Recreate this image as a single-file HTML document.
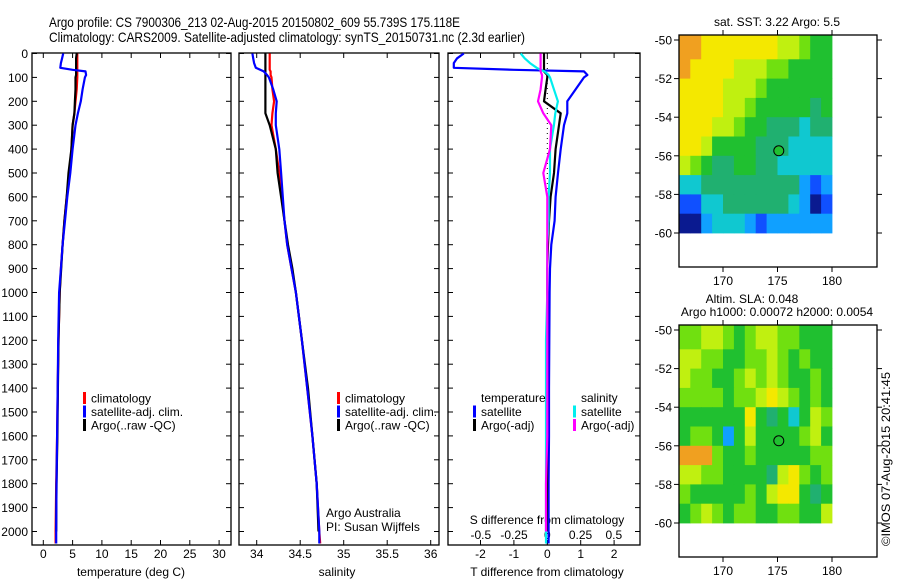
<!DOCTYPE html>
<html><head><meta charset="utf-8"><style>
html,body{margin:0;padding:0;background:#fff;}
svg{display:block;font-family:"Liberation Sans",sans-serif;}
</style></head><body>
<svg id="chart" width="900" height="580" viewBox="0 0 900 580" xmlns="http://www.w3.org/2000/svg">
<text x="49" y="27" font-size="14" textLength="411" lengthAdjust="spacingAndGlyphs">Argo profile: CS 7900306_213 02-Aug-2015 20150802_609 55.739S 175.118E</text>
<text x="49" y="42" font-size="14" textLength="476" lengthAdjust="spacingAndGlyphs">Climatology: CARS2009. Satellite-adjusted climatology: synTS_20150731.nc (2.3d earlier)</text>
<g id="g1"></g><g id="g2"></g><g id="g3"></g><g id="m1"></g><g id="m2"></g>
<text x="0" y="0" font-size="12" transform="translate(890,546) rotate(-90)" textLength="174" lengthAdjust="spacingAndGlyphs">©IMOS 07-Aug-2015 20:41:45</text>
</svg>
<script>
// ---- profile data ----
const depths = [0,20,40,60,68,75,90,100,150,200,250,300,400,500,600,700,800,900,1000,1200,1400,1600,1800,2000,2050];
const tClim = [5.8,5.8,5.8,5.8,5.8,5.8,5.8,5.8,5.7,5.5,5.3,5.0,4.8,4.5,4.0,3.6,3.3,3.0,2.8,2.6,2.45,2.35,2.2,2.1,2.1];
const tSat  = [3.4,3.2,3.0,2.9,5.0,7.2,7.3,7.1,6.7,6.4,5.9,5.5,5.0,4.6,4.1,3.7,3.3,3.0,2.7,2.55,2.45,2.35,2.25,2.2,2.2];
const tArgo = [5.7,5.6,5.6,5.6,5.6,5.6,5.6,5.5,5.5,5.4,5.3,5.0,4.8,4.3,4.0,3.6,3.3,3.05,2.8,2.6,2.5,2.4,2.25,2.2,null];
const sClim = [34.15,34.15,34.15,34.15,34.15,34.16,34.16,34.17,34.18,34.2,34.18,34.17,34.22,34.26,34.29,34.32,34.35,34.4,34.45,34.52,34.58,34.64,34.69,34.72,34.73];
const sSat  = [33.95,33.96,33.97,33.99,34.04,34.08,34.12,34.14,34.19,34.23,34.22,34.22,34.26,34.28,34.3,34.32,34.35,34.4,34.45,34.52,34.58,34.64,34.69,34.72,34.72];
const sArgo = [34.1,34.1,34.1,34.1,34.1,34.1,34.1,34.1,34.1,34.1,34.1,34.15,34.22,34.24,34.28,34.32,34.36,34.41,34.45,34.52,34.59,34.64,34.69,34.71,null];
const dtSat  = [-2.5,-2.7,-2.8,-2.8,-1,1.1,1.2,1.1,0.85,0.6,0.6,0.5,0.4,0.32,0.25,0.22,0.12,0.08,0.07,0.06,0.05,0.05,0.04,0.04,0.04];
const dtArgo = [-0.1,-0.1,-0.1,-0.1,-0.1,-0.1,0,0,-0.05,-0.1,0.4,0.35,0.25,0.2,0.1,0.05,0.02,0,0,0,0,-0.01,-0.01,-0.02,null];
const dsSat  = [-0.2,-0.17,-0.13,-0.08,-0.05,-0.02,0.01,0.02,0.05,0.08,0.06,0.05,0.02,0.02,0.01,0.01,0,0,0,-0.01,-0.01,-0.01,-0.01,-0.01,-0.01];
const dsArgo = [-0.05,-0.05,-0.05,-0.05,-0.05,-0.05,-0.04,-0.04,-0.05,-0.07,-0.03,0.03,0.02,-0.03,0,0,0,0,0,0,0,0,-0.01,-0.01,null];
const depthTicks = [0,100,200,300,400,500,600,700,800,900,1000,1100,1200,1300,1400,1500,1600,1700,1800,1900,2000];
const tTicks = [0,5,10,15,20,25,30];
const sTicks = [34,34.5,35,35.5,36];
const dtTicks = [-2,-1,0,1,2];
const dsTicks = [-0.5,-0.25,0,0.25,0.5];
const dsTickLabels = ["-0.5","-0.25","0","0.25","0.5"];
// ---- map data (colour index 0..9 per 1deg cell, rows -50..-60, cols 166..180) ----
const sstRows = ["99888888877655","98888777665555","88887776555555","88887765555545","88877655444344","88755554443333","76544554433333","33444444444212","11334444443201","00233321222222"];
const slaRows = ["66776567766555","77665566765655","76655676765565","66665667876565","55555585453576","56652575555675","99965565555566","77665555478656","65555565788545","56765665566557"];
const palette = ["#0a1a90","#1050ff","#10a0ff","#10c8d0","#20b070","#20c030","#70e010","#c0f010","#f4e800","#f0a020"];
const argoLon = 175.118, argoLat = -55.739;

const NS="http://www.w3.org/2000/svg";
function mk(parent,tag,attrs,text){const e=document.createElementNS(NS,tag);for(const k in attrs)e.setAttribute(k,attrs[k]);if(text!==undefined)e.textContent=text;parent.appendChild(e);return e;}
const yD = d => 53.5 + d*0.239;
const TOP=53, BOT=545;

function frame(g,x0,x1,name){
  const r=mk(g,'rect',{x:x0,y:TOP,width:x1-x0,height:BOT-TOP,fill:'none',stroke:'#000','stroke-width':1.3});
  
  
  depthTicks.forEach(d=>{
    mk(g,'line',{x1:x0,x2:x0+5,y1:yD(d),y2:yD(d),stroke:'#000'});
    mk(g,'line',{x1:x1-5,x2:x1,y1:yD(d),y2:yD(d),stroke:'#000'});
  });
}
function xTicks(g,ticks,labels,fx,name,labelY){
  ticks.forEach((t,i)=>{
    const x=fx(t);
    mk(g,'line',{x1:x,x2:x,y1:BOT,y2:BOT-5,stroke:'#000'});
    mk(g,'line',{x1:x,x2:x,y1:TOP,y2:TOP+5,stroke:'#000'});
    const tx=mk(g,'text',{x:x,y:labelY,'font-size':12,'text-anchor':'middle'},labels[i]);
    
    
  });
}
function profile(g,vals,fx,color,name){
  let pts=[];
  vals.forEach((v,i)=>{ if(v!==null) pts.push(fx(v).toFixed(1)+','+yD(depths[i]).toFixed(1)); });
  const p=mk(g,'polyline',{points:pts.join(' '),fill:'none',stroke:color,'stroke-width':2.2,'stroke-linejoin':'round'});
  
  
}
function legend(g,x,y,color,label,name){
  mk(g,'rect',{x:x,y:y-6,width:3,height:12,fill:color});
  const t=mk(g,'text',{x:x+8,y:y+4.5,'font-size':12},label);
  
  
}

// Panel 1 temperature
const g1=document.getElementById('g1');
const xT = t => 43.3 + t*5.86;
frame(g1,32,231,'temperature-panel');
depthTicks.forEach(d=>{
  const t=mk(g1,'text',{x:28,y:yD(d)+4.5,'font-size':12,'text-anchor':'end'},String(d));
  
  
});
xTicks(g1,tTicks,tTicks.map(String),xT,'temperature',558);
const tl=mk(g1,'text',{x:131,y:576,'font-size':12,'text-anchor':'middle'},'temperature (deg C)');


profile(g1,tClim,xT,'#f00','temp-climatology-line');
profile(g1,tArgo,xT,'#000','temp-argo-line');
profile(g1,tSat,xT,'#00f','temp-satellite-line');
legend(g1,83,398,'#f00','climatology','legend-climatology');
legend(g1,83,411.5,'#00f','satellite-adj. clim.','legend-satellite');
legend(g1,83,425,'#000','Argo(..raw -QC)','legend-argo');

// Panel 2 salinity
const g2=document.getElementById('g2');
const xS = s => 256.7 + (s-34)*87;
frame(g2,239,439,'salinity-panel');
xTicks(g2,sTicks,["34","34.5","35","35.5","36"],xS,'salinity',558);
const sl=mk(g2,'text',{x:337,y:576,'font-size':12,'text-anchor':'middle'},'salinity');


profile(g2,sClim,xS,'#f00','sal-climatology-line');
profile(g2,sArgo,xS,'#000','sal-argo-line');
profile(g2,sSat,xS,'#00f','sal-satellite-line');
legend(g2,337,398,'#f00','climatology','legend-climatology-sal');
legend(g2,337,411.5,'#00f','satellite-adj. clim.','legend-satellite-sal');
legend(g2,337,425,'#000','Argo(..raw -QC)','legend-argo-sal');
const aa=mk(g2,'text',{x:326,y:517,'font-size':12},'Argo Australia');


const pi=mk(g2,'text',{x:326,y:531,'font-size':12},'PI: Susan Wijffels');



// Panel 3 differences
const g3=document.getElementById('g3');
const xDT = t => 547.3 + t*33.4;
const xDS = s => 547.3 + s*133;
frame(g3,448,640,'difference-panel');
xTicks(g3,dtTicks,dtTicks.map(String),xDT,'t-diff',558);
dsTicks.forEach((s,i)=>{
  const t=mk(g3,'text',{x:xDS(s),y:539,'font-size':12,'text-anchor':'middle'},dsTickLabels[i]);
  
  
});
const sdl=mk(g3,'text',{x:547,y:524,'font-size':12,'text-anchor':'middle'},'S difference from climatology');


const tdl=mk(g3,'text',{x:547,y:576,'font-size':12,'text-anchor':'middle'},'T difference from climatology');


mk(g3,'line',{x1:xDT(0),x2:xDT(0),y1:TOP,y2:BOT,stroke:'#000','stroke-dasharray':'1,4'});
profile(g3,dtSat,xDT,'#00f','t-diff-satellite-line');
profile(g3,dtArgo,xDT,'#000','t-diff-argo-line');
profile(g3,dsSat,xDS,'#0ee','s-diff-satellite-line');
profile(g3,dsArgo,xDS,'#f0f','s-diff-argo-line');
const tlh=mk(g3,'text',{x:481,y:402,'font-size':12},'temperature');


const slh=mk(g3,'text',{x:581,y:402,'font-size':12},'salinity');


legend(g3,473,411.5,'#00f','satellite','legend-t-satellite');
legend(g3,473,425,'#000','Argo(-adj)','legend-t-argo');
legend(g3,573,411.5,'#0ee','satellite','legend-s-satellite');
legend(g3,573,425,'#f0f','Argo(-adj)','legend-s-argo');

// Maps
const lonX = lon => 679.4 + (lon-166)*10.9;
const lonTicks=[170,175,180];
const latTicks=[-50,-52,-54,-56,-58,-60];
function drawMap(gid,rows,y0,title,name){
  const g=document.getElementById(gid);
  const latY = lat => y0 + 5 + (-50-lat)*19.3;
  rows.forEach((row,r)=>{
    const ya = r===0 ? y0 : latY(-50-r);
    const yb = latY(-51-r);
    for(let c=0;c<row.length;c++){
      const cell=mk(g,'rect',{x:lonX(166+c).toFixed(1),y:ya.toFixed(1),width:(10.9+0.4).toFixed(1),height:(yb-ya+0.4).toFixed(1),fill:palette[+row[c]]});
      
      
    }
  });
  const fr=mk(g,'rect',{x:679,y:y0,width:198,height:232,fill:'none',stroke:'#000','stroke-width':1.3});
  
  
  latTicks.forEach(l=>{
    const y=latY(l);
    mk(g,'line',{x1:679,x2:674,y1:y,y2:y,stroke:'#000'});
    mk(g,'line',{x1:877,x2:882,y1:y,y2:y,stroke:'#000'});
    const t=mk(g,'text',{x:672,y:y+4.5,'font-size':12,'text-anchor':'end'},String(l));
    
    
  });
  lonTicks.forEach(l=>{
    const x=lonX(l);
    mk(g,'line',{x1:x,x2:x,y1:y0,y2:y0-5,stroke:'#000'});
    mk(g,'line',{x1:x,x2:x,y1:y0+232,y2:y0+237,stroke:'#000'});
    const t=mk(g,'text',{x:x,y:y0+250,'font-size':12,'text-anchor':'middle'},String(l));
    
    
  });
  const c=mk(g,'circle',{cx:lonX(argoLon),cy:latY(argoLat),r:5,fill:'#20c030',stroke:'#000','stroke-width':1});
  
  
  title.forEach((tt,i)=>{
    const t=mk(g,'text',{x:tt[1],y:y0-(title.length-i)*13+4,'font-size':12,'text-anchor':'middle'},tt[0]);
    
    
  });
}
drawMap('m1',sstRows,35,[["sat. SST: 3.22 Argo: 5.5",777]],'sst-map');
drawMap('m2',slaRows,325,[["Altim. SLA: 0.048",752],["Argo h1000: 0.00072 h2000: 0.0054",777]],'sla-map');
</script>
</body></html>
